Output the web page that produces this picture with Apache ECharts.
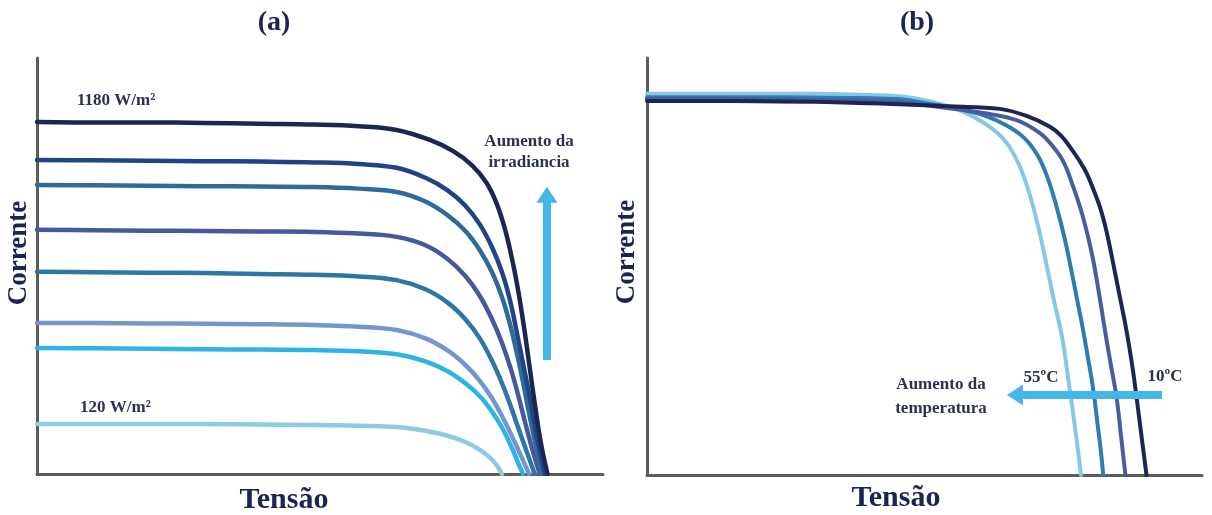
<!DOCTYPE html>
<html lang="pt" style="height: 100%">
<head>
  <meta charset="utf-8">
</head>
<body style="height: 100%; margin: 0; background: #fff">
  <div id="container" style="width: 1212px; height: 515px"></div>

  <script type="text/javascript" src="https://cdn.jsdelivr.net/npm/echarts@6/dist/echarts.min.js"></script>
  <script type="text/javascript">
    // (a) curvas I-V para diferentes irradiancias  [tensao, corrente]
    var irr1180 = [[0, 8.46], [5, 8.45], [10, 8.45], [15, 8.44], [20, 8.42], [25, 8.40], [29, 8.36], [32.4, 8.27], [35.4, 8.03], [37.5, 7.76], [39.2, 7.42], [40.5, 7.00], [41.4, 6.51], [42.1, 5.95], [42.7, 5.30], [43.3, 4.50], [43.9, 3.50], [44.4, 2.55], [44.9, 1.60], [45.4, 0.75], [46.0, 0]];
    var irr2 = [[0, 7.55], [5, 7.54], [10, 7.53], [15, 7.52], [20, 7.51], [25, 7.49], [29, 7.45], [32.4, 7.36], [35.0, 7.12], [37.0, 6.82], [38.6, 6.45], [39.9, 6.00], [41.0, 5.45], [41.9, 4.85], [42.6, 4.20], [43.2, 3.45], [43.8, 2.65], [44.4, 1.85], [44.9, 1.10], [45.35, 0.50], [45.75, 0]];
    var irr3 = [[0, 6.95], [5, 6.94], [10, 6.93], [15, 6.92], [20, 6.91], [25, 6.90], [29, 6.86], [32.4, 6.78], [35.0, 6.55], [37.0, 6.22], [38.6, 5.84], [39.9, 5.38], [41.0, 4.85], [41.9, 4.25], [42.6, 3.62], [43.2, 2.95], [43.8, 2.20], [44.35, 1.45], [44.85, 0.80], [45.25, 0.35], [45.6, 0]];
    var irr4 = [[0, 5.87], [5, 5.86], [10, 5.85], [15, 5.84], [20, 5.83], [25, 5.82], [29, 5.78], [32.4, 5.70], [35.0, 5.50], [37.0, 5.17], [38.6, 4.76], [39.9, 4.28], [41.0, 3.72], [41.9, 3.15], [42.7, 2.52], [43.4, 1.85], [44.0, 1.22], [44.6, 0.62], [45.3, 0]];
    var irr5 = [[0, 4.86], [5, 4.85], [10, 4.84], [15, 4.83], [20, 4.81], [25, 4.79], [29, 4.75], [32.4, 4.66], [35.0, 4.44], [37.0, 4.12], [38.6, 3.72], [39.9, 3.26], [41.0, 2.72], [41.9, 2.18], [42.7, 1.62], [43.4, 1.08], [44.2, 0.48], [44.85, 0]];
    var irr6 = [[0, 3.63], [5, 3.63], [10, 3.62], [15, 3.61], [20, 3.60], [25, 3.58], [29, 3.54], [32.4, 3.46], [35.0, 3.26], [37.0, 2.97], [38.6, 2.62], [39.9, 2.24], [41.0, 1.82], [42.0, 1.34], [42.9, 0.85], [43.7, 0.38], [44.35, 0]];
    var irr7 = [[0, 3.03], [5, 3.02], [10, 3.01], [15, 3.00], [20, 2.99], [25, 2.98], [29, 2.95], [32.4, 2.88], [35.0, 2.71], [37.0, 2.47], [38.6, 2.18], [39.9, 1.87], [41.0, 1.50], [42.0, 1.07], [42.8, 0.62], [43.3, 0.30], [43.8, 0]];
    var irr120 = [[0, 1.20], [5, 1.20], [10, 1.20], [15, 1.20], [20, 1.19], [25, 1.18], [29, 1.16], [32.4, 1.13], [35.0, 1.04], [37.0, 0.92], [38.6, 0.77], [39.8, 0.60], [40.8, 0.40], [41.4, 0.22], [41.9, 0]];

    // (b) curvas I-V para diferentes temperaturas
    var temp55 = [[0, 9.14], [5, 9.14], [10, 9.14], [15, 9.14], [19, 9.12], [22.8, 9.08], [25.8, 8.94], [28.4, 8.72], [30.6, 8.40], [32.3, 8.00], [33.5, 7.45], [34.45, 6.75], [35.25, 5.95], [35.95, 5.10], [36.65, 4.20], [37.4, 3.30], [37.9, 2.40], [38.4, 1.45], [38.8, 0.65], [39.1, 0]];
    var tempB2 = [[0, 9.06], [5, 9.06], [10, 9.06], [15, 9.05], [19, 9.04], [22.8, 9.01], [25.5, 8.90], [28.0, 8.78], [30.3, 8.63], [32.4, 8.38], [34.0, 8.08], [35.2, 7.66], [36.1, 7.12], [36.9, 6.43], [37.6, 5.70], [38.2, 4.95], [38.7, 4.27], [39.2, 3.60], [39.7, 2.85], [40.2, 2.05], [40.6, 1.20], [40.9, 0.55], [41.1, 0]];
    var tempB3 = [[0, 9.02], [5, 9.02], [10, 9.01], [15, 9.00], [19, 8.98], [22.8, 8.94], [26.5, 8.82], [30.3, 8.68], [33.3, 8.51], [35.4, 8.20], [36.5, 7.90], [37.5, 7.52], [38.4, 6.91], [39.1, 6.35], [39.7, 5.75], [40.2, 5.15], [40.6, 4.55], [41.0, 3.90], [41.4, 3.24], [41.85, 2.55], [42.3, 1.87], [42.7, 0.95], [43.1, 0]];
    var temp10 = [[0, 8.97], [5, 8.97], [10, 8.96], [15, 8.95], [19, 8.92], [22.8, 8.89], [27.3, 8.84], [31.8, 8.78], [34.2, 8.61], [36.3, 8.35], [37.3, 8.14], [38.1, 7.87], [38.9, 7.56], [39.6, 7.24], [40.2, 6.86], [40.8, 6.43], [41.3, 5.95], [41.7, 5.47], [42.15, 4.87], [42.6, 4.27], [43.05, 3.67], [43.45, 3.07], [43.8, 2.47], [44.1, 1.87], [44.55, 0.93], [45.0, 0]];

    var irrLabels = ['1180 W/m²', '120 W/m²'];
    var tempLabels = ['10ºC', '55ºC'];

    // setas (tensao, corrente): inicio e fim
    var arrowIrr = [[45.95, 2.74], [45.95, 6.71]];
    var arrowTemp = [[46.4, 1.92], [33.15, 1.92]];

    var serif = 'Liberation Serif';
    var navy = '#1b2452';
    var noteColor = '#2c3152';
    var arrowColor = '#44b6e8';

    var dom = document.getElementById('container');
    var myChart = echarts.init(dom, null, { renderer: 'canvas' });

    function curve(name, data, color, grid, width) {
      return {
        name: name,
        type: 'line',
        xAxisIndex: grid,
        yAxisIndex: grid,
        data: data,
        showSymbol: false,
        smooth: 0.4,
        silent: true,
        lineStyle: { color: color, width: width, cap: 'round', join: 'round' }
      };
    }

    function arrow(pts) {
      return {
        silent: true,
        symbol: ['none', 'triangle'],
        symbolSize: [21, 16],
        label: { show: false },
        lineStyle: { color: arrowColor, width: 8, type: 'solid' },
        itemStyle: { color: arrowColor },
        data: [[{ coord: pts[0] }, { coord: pts[1] }]]
      };
    }

    var axisCommon = {
      type: 'value',
      axisLine: { show: true, onZero: false, lineStyle: { color: '#5c5c5c', width: 3 } },
      axisTick: { show: false },
      axisLabel: { show: false },
      splitLine: { show: false }
    };

    var seriesA = [
      curve('120 W/m²', irr120, '#8ccbe4', 0, 4.5),
      curve('irr7', irr7, '#2db3e6', 0, 4.5),
      curve('irr6', irr6, '#7596cc', 0, 4.5),
      curve('irr5', irr5, '#2e77a5', 0, 4.5),
      curve('irr4', irr4, '#47599b', 0, 4.5),
      curve('irr3', irr3, '#2d6b99', 0, 4.5),
      curve('irr2', irr2, '#1f4586', 0, 4.5),
      curve('1180 W/m²', irr1180, '#1c2654', 0, 4.5)
    ];
    seriesA[0].markLine = arrow(arrowIrr);

    var seriesB = [
      curve('55ºC', temp55, '#85c8e6', 1, 4),
      curve('tempB2', tempB2, '#2f7cb0', 1, 4),
      curve('tempB3', tempB3, '#4a5ca0', 1, 4),
      curve('10ºC', temp10, '#1c2654', 1, 4)
    ];
    seriesB[0].markLine = arrow(arrowTemp);

    function txt(text, x, y, size, align, color, lh) {
      return {
        type: 'text',
        x: x,
        y: y,
        silent: true,
        z: 100,
        style: {
          text: text,
          fill: color,
          font: 'bold ' + size + 'px "' + serif + '"',
          align: align,
          verticalAlign: 'middle',
          lineHeight: lh || size
        }
      };
    }

    var option = {
      animation: false,
      backgroundColor: '#ffffff',
      grid: [
        { left: 37, top: 58, width: 566, height: 416 },
        { left: 647, top: 58, width: 555, height: 417 }
      ],
      xAxis: [
        Object.assign({ gridIndex: 0, min: 0, max: 51 }, axisCommon),
        Object.assign({ gridIndex: 1, min: 0, max: 50 }, axisCommon)
      ],
      yAxis: [
        Object.assign({ gridIndex: 0, min: 0, max: 10 }, axisCommon),
        Object.assign({ gridIndex: 1, min: 0, max: 10 }, axisCommon)
      ],
      graphic: [
        txt('(a)', 274, 23, 28, 'center', navy),
        txt('(b)', 917, 23, 28, 'center', navy),
        txt('Tensão', 284, 500, 30, 'center', navy),
        txt('Tensão', 896, 498, 30, 'center', navy),
        Object.assign(txt('Corrente', 19, 253, 27, 'center', navy), { rotation: Math.PI / 2 }),
        Object.assign(txt('Corrente', 627, 252, 27, 'center', navy), { rotation: Math.PI / 2 }),
        txt(irrLabels[0], 77, 101, 17, 'left', noteColor),
        txt(irrLabels[1], 80, 408, 17, 'left', noteColor),
        txt('Aumento da\nirradiancia', 529, 152, 17, 'center', noteColor, 21),
        txt(tempLabels[1], 1041, 378, 17, 'center', noteColor),
        txt(tempLabels[0], 1165, 377, 17, 'center', noteColor),
        txt('Aumento da\ntemperatura', 941, 397, 17, 'center', noteColor, 24)
      ],
      series: seriesA.concat(seriesB)
    };

    myChart.setOption(option);
    window.addEventListener('resize', myChart.resize);
  </script>
</body>
</html>
